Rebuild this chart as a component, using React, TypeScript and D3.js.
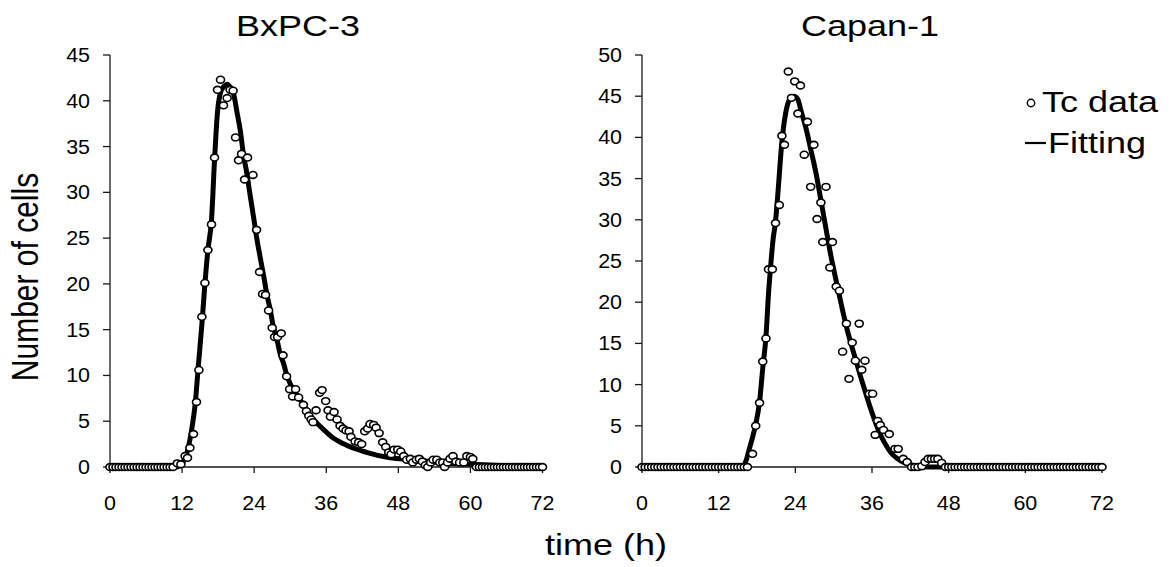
import React from "react";
import * as d3 from "d3";

// ---------- data ----------
const xTicks = [0, 12, 24, 36, 48, 60, 72];
const bxYTicks = [0, 5, 10, 15, 20, 25, 30, 35, 40, 45];
const cpYTicks = [0, 5, 10, 15, 20, 25, 30, 35, 40, 45, 50];

// BxPC-3 Tc data (time h, cells)
const bxTimes = [
  0, 0.5, 1, 1.5, 2, 2.5, 3, 3.5, 4, 4.5, 5, 5.5, 6, 6.5, 7, 7.5, 8, 8.5, 9, 9.5, 10, 10.5,
  11.2, 11.8, 12.5, 12.9, 13.3, 13.9, 14.4, 14.8, 15.3, 15.8, 16.3, 16.9, 17.4, 17.9, 18.4, 18.9,
  19.5, 20.0, 20.5, 20.9, 21.4, 21.9, 22.4, 22.9, 23.8, 24.4, 24.9, 25.4, 25.9, 26.4, 27.0, 27.4,
  27.9, 28.5, 28.8, 29.4, 29.9, 30.4, 30.9, 31.4, 32.2, 32.7, 33.1, 33.5, 33.8, 34.3, 34.9, 35.3,
  35.9, 36.3, 36.7, 37.3, 37.8, 38.3, 38.8, 39.3, 39.8, 40.1, 40.8, 41.4, 41.9, 42.4, 42.9, 43.3,
  43.9, 44.3, 44.8, 45.4, 45.9, 46.4, 46.8, 47.3, 47.9, 48.4, 48.9, 49.4, 50.0, 50.4, 51.0, 51.5,
  52.0, 52.5, 52.9, 53.4, 53.8, 54.4, 54.9, 55.4, 55.7, 56.2, 56.6, 57.1, 57.6, 58.2, 58.9, 59.4,
  60.0, 60.4, 61, 61.5, 62, 62.5, 63, 63.5, 64, 64.5, 65, 65.5, 66, 66.5, 67, 67.5, 68, 68.5, 69,
  69.5, 70, 70.5, 71, 71.5, 72,
];
const bxValues = [
  0, 0, 0, 0, 0, 0, 0, 0, 0, 0, 0, 0, 0, 0, 0, 0, 0, 0, 0, 0, 0, 0,
  0.4, 0.3, 1.2, 1.0, 2.1, 3.6, 7.1, 10.6, 16.4, 20.1, 23.7, 26.5, 33.8, 41.2, 42.3, 39.5,
  40.3, 41.2, 41.1, 36.0, 33.5, 34.2, 31.4, 33.8, 31.9, 25.9, 21.3, 18.9, 18.8, 17.1, 15.2, 14.2,
  14.2, 14.6, 12.2, 9.9, 8.5, 7.7, 8.5, 7.6, 6.8, 6.1, 5.6, 5.2, 4.9, 6.2, 8.1, 8.4,
  7.2, 6.2, 5.5, 6.0, 5.2, 4.5, 4.2, 4.0, 3.9, 3.3, 2.8, 2.7, 2.5, 3.9, 4.2, 4.7,
  4.6, 4.3, 3.7, 2.7, 2.2, 1.6, 1.4, 1.9, 1.9, 1.7, 1.2, 0.8, 0.9, 0.5, 0.8, 0.9,
  0.6, 0.2, 0.0, 0.5, 0.8, 0.8, 0.5, 0.5, 0.0, 0.5, 0.9, 1.2, 0.6, 0.5, 0.5, 1.2,
  1.1, 0.9, 0, 0, 0, 0, 0, 0, 0, 0, 0, 0, 0, 0, 0, 0, 0, 0, 0,
  0, 0, 0, 0, 0, 0,
];

// BxPC-3 fitting curve
const bxFitTimes = [
  0, 11.0, 11.5, 11.9, 12.8, 13.6, 14.2, 14.7, 15.3, 15.8, 16.3, 16.9, 17.4, 17.9, 18.4, 19.0,
  19.5, 20.0, 20.6, 21.1, 21.7, 22.2, 22.8, 23.3, 23.9, 24.4, 25.0, 25.6, 26.1, 26.7, 27.2, 27.8,
  28.3, 28.9, 29.4, 30.0, 30.6, 31.6, 33.2, 34.9, 37.1, 39.3, 42.7, 46.6, 50.4, 55, 60, 66, 72,
];
const bxFitValues = [
  0, 0, 0.1, 0.3, 1.5, 4.1, 7.0, 11.0, 15.6, 20.0, 23.7, 27.0, 33.5, 38.8, 40.9, 41.6,
  41.8, 41.5, 40.7, 38.9, 36.7, 34.2, 32.0, 29.8, 27.3, 25.1, 22.9, 20.8, 18.9, 17.1, 15.3, 13.9,
  12.4, 11.3, 10.1, 9.1, 8.4, 7.4, 5.7, 4.5, 3.2, 2.4, 1.6, 1.0, 0.8, 0.5, 0.3, 0.15, 0.1,
];

// Capan-1 Tc data
const cpTimes = [
  0, 0.5, 1, 1.5, 2, 2.5, 3, 3.5, 4, 4.5, 5, 5.5, 6, 6.5, 7, 7.5, 8, 8.5, 9, 9.5, 10, 10.5, 11,
  11.5, 12, 12.5, 13, 13.5, 14, 14.5, 15, 15.5, 16, 16.5,
  17.3, 17.8, 18.4, 18.9, 19.4, 19.8, 20.4, 20.9, 21.5, 21.9, 22.3, 22.9, 23.4, 23.9, 24.4, 24.8,
  25.4, 25.9, 26.4, 26.9, 27.4, 28.0, 28.3, 28.8, 29.4, 29.8, 30.4, 30.9, 31.4, 32.0, 32.4, 32.9,
  33.4, 34.0, 34.4, 34.9, 35.6, 36.1, 36.5, 36.9, 37.3, 37.8, 38.7, 39.6, 40.1, 40.9, 41.5, 42.2,
  42.7, 43.2, 43.8, 44.3, 44.8, 45.3, 45.8, 46.3, 46.9,
  47.5, 48, 48.5, 49, 49.5, 50, 50.5, 51, 51.5, 52, 52.5, 53, 53.5, 54, 54.5, 55, 55.5, 56, 56.5,
  57, 57.5, 58, 58.5, 59, 59.5, 60, 60.5, 61, 61.5, 62, 62.5, 63, 63.5, 64, 64.5, 65, 65.5, 66,
  66.5, 67, 67.5, 68, 68.5, 69, 69.5, 70, 70.5, 71, 71.5, 72,
];
const cpValues = [
  0, 0, 0, 0, 0, 0, 0, 0, 0, 0, 0, 0, 0, 0, 0, 0, 0, 0, 0, 0, 0, 0, 0,
  0, 0, 0, 0, 0, 0, 0, 0, 0, 0, 0,
  1.6, 5.0, 7.8, 12.8, 15.6, 24.0, 24.0, 29.6, 31.8, 40.2, 39.1, 48.0, 44.8, 46.8, 42.9, 46.3,
  37.9, 41.9, 34.0, 39.1, 30.1, 32.1, 27.3, 34.0, 24.2, 27.3, 21.9, 21.4, 14.0, 17.4, 10.7, 15.1,
  12.9, 17.4, 11.8, 12.9, 8.9, 8.9, 3.9, 5.6, 5.1, 4.5, 4.0, 2.2, 2.2, 1.0, 0.6, 0,
  0, 0, 0.1, 0.6, 1.0, 1.0, 1.0, 1.0, 0.5,
  0, 0, 0, 0, 0, 0, 0, 0, 0, 0, 0, 0, 0, 0, 0, 0, 0, 0, 0,
  0, 0, 0, 0, 0, 0, 0, 0, 0, 0, 0, 0, 0, 0, 0, 0, 0, 0, 0,
  0, 0, 0, 0, 0, 0, 0, 0, 0, 0, 0, 0,
];

// Capan-1 fitting curve
const cpFitTimes = [
  0, 15.8, 16.3, 16.8, 17.3, 17.8, 18.4, 18.9, 19.4, 19.8, 20.1, 20.5, 20.9, 21.3, 21.9, 22.5,
  23.1, 23.8, 24.4, 24.9, 25.7, 26.4, 27.2, 28.0, 28.8, 29.4, 30.7, 32.0, 33.3, 34.2, 35.0, 36.0,
  37.0, 38.0, 39.0, 40.0, 41.0, 42.0, 43.0, 44.0, 45.0, 72,
];
const cpFitValues = [
  0, 0, 0.8, 2.2, 3.6, 5.2, 7.9, 12.0, 15.8, 21.0, 24.0, 27.5, 29.8, 33.5, 39.5, 43.0,
  44.6, 45.0, 44.6, 43.2, 41.0, 38.6, 35.8, 32.4, 28.9, 26.3, 21.5, 17.0, 13.4, 11.0, 9.0, 6.6,
  4.5, 2.9, 1.7, 1.0, 0.55, 0.28, 0.12, 0.04, 0, 0,
];

// ---------- drawing ----------
const FONT = "'Liberation Sans', Arial, Helvetica, sans-serif";
const STRETCH = 1.2;

type PanelProps = {
  title: string;
  titleX: number;
  x0: number;
  x1: number;
  yMax: number;
  yTicks: number[];
  times: number[];
  values: number[];
  fitT: number[];
  fitV: number[];
};

function SText(props: {
  x: number;
  y: number;
  size: number;
  anchor?: string;
  rotate?: number;
  sx?: number;
  children: React.ReactNode;
}) {
  const { x, y, size, anchor = "middle", rotate = 0, sx = STRETCH } = props;
  return (
    <text
      transform={`translate(${x},${y}) scale(${sx},1) rotate(${rotate})`}
      fontFamily={FONT}
      fontSize={size}
      textAnchor={anchor}
      fill="#000"
    >
      {props.children}
    </text>
  );
}

function Panel(p: PanelProps) {
  const yTop = 55;
  const yBot = 467;
  const x = d3.scaleLinear().domain([0, 72]).range([p.x0, p.x1]);
  const y = d3.scaleLinear().domain([0, p.yMax]).range([yBot, yTop]);
  const line = d3
    .line<number>()
    .x((_, i) => x(p.fitT[i]))
    .y((d) => y(d))
    .curve(d3.curveMonotoneX);
  const n = Math.min(p.times.length, p.values.length);
  const axisColor = "#1a1a1a";
  return (
    <g>
      <SText x={p.titleX} y={36} size={30}>
        {p.title}
      </SText>
      {/* y axis */}
      <line x1={p.x0} x2={p.x0} y1={yTop} y2={yBot} stroke={axisColor} strokeWidth={1.3} />
      {p.yTicks.map((t) => (
        <g key={"y" + t}>
          <line x1={p.x0 - 7} x2={p.x0} y1={y(t)} y2={y(t)} stroke={axisColor} strokeWidth={1.3} />
          <SText x={p.x0 - 20} y={y(t) + 7} size={19.5} anchor="end" sx={1.1}>
            {t}
          </SText>
        </g>
      ))}
      {/* x axis */}
      <line x1={p.x0} x2={p.x1} y1={yBot} y2={yBot} stroke={axisColor} strokeWidth={1.3} />
      {xTicks.map((t) => (
        <g key={"x" + t}>
          <line x1={x(t)} x2={x(t)} y1={yBot} y2={yBot + 6} stroke={axisColor} strokeWidth={1.3} />
          <SText x={x(t)} y={510} size={19.5} sx={1.1}>
            {t}
          </SText>
        </g>
      ))}
      <path d={line(p.fitV) || ""} fill="none" stroke="#000" strokeWidth={5} strokeLinejoin="round" />
      {p.values.slice(0, n).map((v, i) => (
        <ellipse
          key={"p" + i}
          cx={x(p.times[i])}
          cy={y(v)}
          rx={4.0}
          ry={3.4}
          fill="#fff"
          stroke="#000"
          strokeWidth={1.6}
        />
      ))}
    </g>
  );
}

export default function App() {
  return (
    <svg
      width={1172}
      height={567}
      style={{ position: "absolute", left: 0, top: 0, background: "#fff" }}
    >
      <rect x={0} y={0} width={1172} height={567} fill="#fff" />
      <Panel
        title="BxPC-3"
        titleX={298}
        x0={110}
        x1={542.5}
        yMax={45}
        yTicks={bxYTicks}
        times={bxTimes}
        values={bxValues}
        fitT={bxFitTimes}
        fitV={bxFitValues}
      />
      <Panel
        title="Capan-1"
        titleX={870}
        x0={642}
        x1={1102}
        yMax={50}
        yTicks={cpYTicks}
        times={cpTimes}
        values={cpValues}
        fitT={cpFitTimes}
        fitV={cpFitValues}
      />
      <SText x={38} y={277} size={30} rotate={-90}>
        Number of cells
      </SText>
      <SText x={606} y={555} size={30}>
        time (h)
      </SText>
      {/* legend */}
      <circle cx={1031} cy={103} r={3.7} fill="#fff" stroke="#000" strokeWidth={1.4} />
      <SText x={1042} y={112} size={30} anchor="start">
        Tc data
      </SText>
      <line x1={1025} x2={1046} y1={143} y2={143} stroke="#000" strokeWidth={2.2} />
      <SText x={1048} y={153} size={30} anchor="start">
        Fitting
      </SText>
    </svg>
  );
}
